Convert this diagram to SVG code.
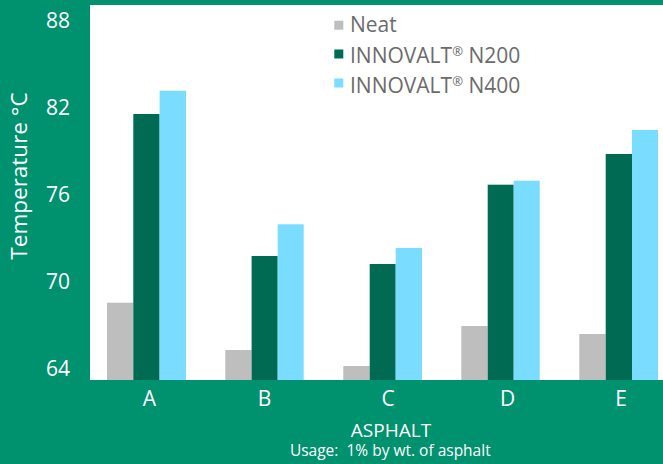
<svg xmlns="http://www.w3.org/2000/svg" width="663" height="464" viewBox="0 0 663 464">
<style>
text{font-family:"Open Sans","Liberation Sans",sans-serif;}
.tick{fill:#ffffff;font-size:21px;text-anchor:end;}
.cat{fill:#ffffff;font-size:21px;text-anchor:middle;}
.leg{fill:#6b6b6b;font-size:21px;}
.neat{fill:#bebebe;}
.n200{fill:#006a52;}
.n400{fill:#7adcff;}
</style>
<rect x="0" y="0" width="663" height="464" fill="#00916e"/>
<rect id="plot" x="90" y="5" width="573" height="375" fill="#ffffff"/>
<g id="yaxis">
<text class="tick" x="70" y="28">88</text>
<text class="tick" x="70" y="115">82</text>
<text class="tick" x="70" y="202">76</text>
<text class="tick" x="70" y="289">70</text>
<text class="tick" x="70" y="376">64</text>
<text transform="translate(26.5,176) rotate(-90)" fill="#ffffff" font-size="22.5" text-anchor="middle">Temperature °C</text>
</g>
<g id="bars">
<g id="A">
<rect class="neat" x="107" y="302.7" width="26.3" height="77.3"/>
<rect class="n200" x="133.3" y="114" width="26.3" height="266"/>
<rect class="n400" x="159.6" y="90.7" width="26.4" height="289.3"/>
</g>
<g id="B">
<rect class="neat" x="225.3" y="350" width="26.3" height="30"/>
<rect class="n200" x="251.6" y="256" width="26.1" height="124"/>
<rect class="n400" x="277.7" y="224.3" width="26" height="155.7"/>
</g>
<g id="C">
<rect class="neat" x="343.3" y="366" width="26.4" height="14"/>
<rect class="n200" x="369.7" y="264" width="26" height="116"/>
<rect class="n400" x="395.7" y="248" width="26.3" height="132"/>
</g>
<g id="D">
<rect class="neat" x="461.3" y="326" width="26.4" height="54"/>
<rect class="n200" x="487.7" y="184.7" width="26" height="195.3"/>
<rect class="n400" x="513.7" y="180.7" width="26" height="199.3"/>
</g>
<g id="E">
<rect class="neat" x="579.3" y="334" width="26.4" height="46"/>
<rect class="n200" x="605.7" y="154" width="26.3" height="226"/>
<rect class="n400" x="632" y="130" width="26" height="250"/>
</g>
</g>
<g id="xaxis">
<text class="cat" x="149.3" y="406">A</text>
<text class="cat" x="264.5" y="406">B</text>
<text class="cat" x="388" y="406">C</text>
<text class="cat" x="507.5" y="406">D</text>
<text class="cat" x="621" y="406">E</text>
<text fill="#ffffff" font-size="19" text-anchor="middle" x="391" y="436.7">ASPHALT</text>
<text fill="#ffffff" font-size="15.5" text-anchor="middle" x="390.3" y="456" xml:space="preserve">Usage:  1% by wt. of asphalt</text>
</g>
<g id="legend">
<rect class="neat" x="334.3" y="20.7" width="9" height="9"/>
<text class="leg" x="350" y="32.3">Neat</text>
<rect class="n200" x="334.3" y="49.5" width="9" height="9"/>
<text class="leg" x="350" y="63.3">INNOVALT<tspan font-size="13" dy="-7">®</tspan><tspan dy="7"> N200</tspan></text>
<rect class="n400" x="334.3" y="78.5" width="9" height="9"/>
<text class="leg" x="350" y="92.7">INNOVALT<tspan font-size="13" dy="-7">®</tspan><tspan dy="7"> N400</tspan></text>
</g>
</svg>
